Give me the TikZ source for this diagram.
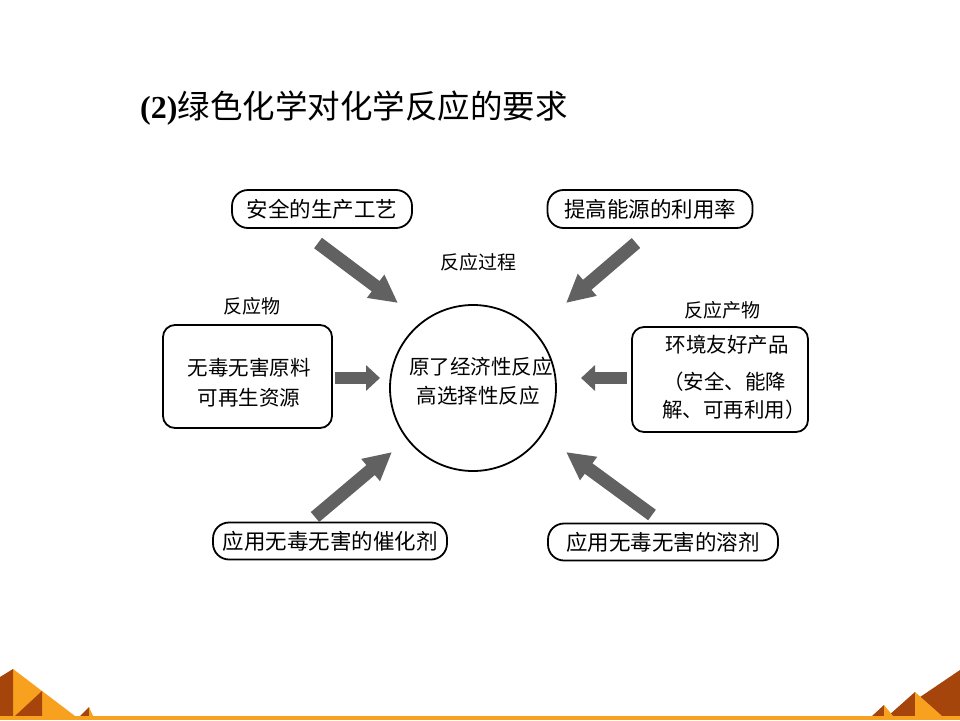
\documentclass[tikz,border=0pt]{standalone}
\usepackage{fontspec}
\newfontfamily\cjk{Noto Sans CJK SC}
\newfontfamily\tms{Liberation Serif}
\usetikzlibrary{arrows.meta}
\definecolor{orgL}{HTML}{F7A11E}
\definecolor{orgD}{HTML}{A5450B}
\definecolor{arrc}{HTML}{616161}
\begin{document}
\begin{tikzpicture}[x=1pt,y=-1pt,
  boxd/.style={draw, line width=1.8pt, inner sep=0pt, align=center,
    font=\cjk\fontsize{21.5}{30}\selectfont},
  pill/.style={boxd, rounded corners=16pt, minimum height=38pt},
  panel/.style={boxd, rounded corners=12pt},
  lbl/.style={inner sep=0pt, font=\cjk\fontsize{19}{22}\selectfont},
  txt/.style={inner sep=0pt, font=\cjk\fontsize{20.5}{22}\selectfont},
  blk/.style={line width=13pt, draw=arrc, -{Triangle[width=27pt,length=28pt]}},
  blks/.style={line width=12pt, draw=arrc, -{Triangle[width=25pt,length=14pt]}}
]
\useasboundingbox (0,0) rectangle (960,720);
\fill[white] (0,0) rectangle (960,720);

% title
\node[anchor=west, inner sep=0pt] (title) at (140,108)
  {{\tms\bfseries\fontsize{32}{34}\selectfont (2)}{\cjk\fontsize{32.5}{34}\selectfont 绿色化学对化学反应的要求}};

% circle
\node[draw, circle, line width=1.8pt, minimum size=166pt, inner sep=0pt] (core) at (473,388) {};
\node[txt] (c1) at (481,367) {原了经济性反应};
\node[txt] (c2) at (478,396) {高选择性反应};

% labels
\node[lbl] (lproc) at (478,262) {反应过程};
\node[lbl] (lreac) at (252,306) {反应物};
\node[lbl] (lprod) at (722,310) {反应产物};

% pill boxes
\node[pill, minimum width=180pt] (safe) at (322,209) {安全的生产工艺};
\node[pill, minimum width=205pt] (energy) at (650,209) {提高能源的利用率};
\node[pill, minimum width=234pt, minimum height=37pt] (cat) at (330,541) {应用无毒无害的催化剂};
\node[pill, minimum width=230pt, minimum height=37pt] (solv) at (663,542) {应用无毒无害的溶剂};

% side panels
\node[panel, minimum width=169pt, minimum height=103pt] (reac) at (247.5,376.5) {};
\node[txt] (r1) at (249,368) {无毒无害原料};
\node[txt] (r2) at (249,398) {可再生资源};

\node[panel, minimum width=176pt, minimum height=105pt] (prod) at (720,379.5) {};
\node[txt] (p1) at (727,345) {环境友好产品};
\node[txt, anchor=west] (p2) at (663,382) {（安全、能降};
\node[txt, anchor=west] (p3) at (662,410) {解、可再利用）};

% arrow end points
\coordinate (a1s) at (318,243); \coordinate (a1e) at (398,303);
\coordinate (a2s) at (636,243); \coordinate (a2e) at (566,303);
\coordinate (a3s) at (335,378); \coordinate (a3e) at (380,378);
\coordinate (a4s) at (627,378); \coordinate (a4e) at (581,378);
\coordinate (a5s) at (315,517); \coordinate (a5e) at (392,452);
\coordinate (a6s) at (652,515); \coordinate (a6e) at (566,452);

\draw[blk] (a1s) -- (a1e);
\draw[blk] (a2s) -- (a2e);
\draw[blks] (a3s) -- (a3e);
\draw[blks] (a4s) -- (a4e);
\draw[blk] (a5s) -- (a5e);
\draw[blk] (a6s) -- (a6e);

% bottom decoration
\fill[orgL] (13,669) -- (75,716) -- (13,716) -- cycle;
\fill[orgD] (0,677) -- (13,669) -- (13,716) -- (0,716) -- cycle;
\fill[orgD] (42,691) -- (42,716) -- (15,716) -- cycle;
\fill[orgD] (89,707) -- (89,716) -- (80,716) -- cycle;
\fill[orgL] (89,707) -- (93,716) -- (89,716) -- cycle;

\fill[orgD] (960,670) -- (960,716) -- (892,716) -- cycle;
\fill[orgD] (915,692) -- (915,716) -- (888,716) -- cycle;
\fill[orgL] (915,692) -- (942,716) -- (915,716) -- cycle;
\fill[orgD] (884,705) -- (884,716) -- (872,716) -- cycle;
\fill[orgL] (884,705) -- (893,716) -- (884,716) -- cycle;

\fill[orgL] (0,716) rectangle (960,720);
\end{tikzpicture}
\end{document}
